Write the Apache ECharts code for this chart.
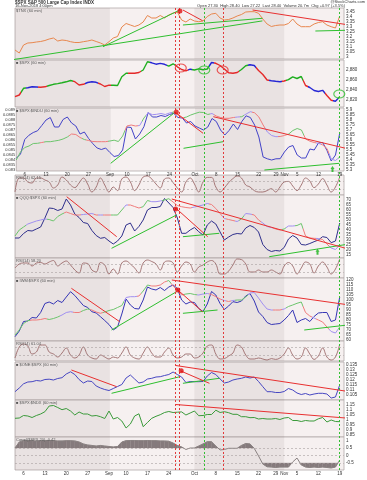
<!DOCTYPE html>
<html><head><meta charset="utf-8">
<script src="https://cdn.jsdelivr.net/npm/echarts@6.0.0/dist/echarts.min.js"></script>
<style>html,body{margin:0;padding:0;background:#fff;overflow:hidden}#c{width:367px;height:480px}</style>
</head><body><div id="c"></div>
<script>
// ================= DATA =================
const xTickIdx = [2,7,12,17,22,26,31,36,42,47,52,57,61,63,66,71,76];
const xTickLbl = ['6','13','20','27','Sep','10','17','24','Oct','8','15','22','29','Nov','5','12','19'];
const monthShade = [[0,22.2],[42,63]];
const vRed = [37.6,38.5,48.8];
const vGreen = [44.2,75.9];

// Panel 1 (orange)
const p1Vals = [3.07,3.04,3.12,3.14,3.143,3.15,3.155,3.165,3.18,3.19,
3.16,3.17,3.165,3.153,3.145,3.145,3.153,3.16,3.17,3.155,
3.14,3.12,3.153,3.19,3.205,3.30,3.335,3.32,3.305,3.32,
3.35,3.415,3.39,3.39,3.415,3.39,3.42,3.44,3.45,3.37,
3.35,3.38,3.36,3.353,3.36,3.405,3.43,3.437,3.39,3.37,
3.375,3.39,3.41,3.425,3.45,3.453,3.453,3.437,3.38,3.33,
3.305,3.315,3.32,3.32,3.335,3.38,3.33,3.303,3.303,3.303,
3.33,3.345,3.353,3.32,3.303,3.29,3.41];
// Panel 2 (price, trend-coloured)
const p2Vals = [2826.6,2830,2843.4,2844.6,2846.4,2846,2845.4,2846.4,2849,2851.4,
2852.8,2854.4,2856.4,2859,2856.6,2850,2851.4,2855,2856.6,2855.4,
2852,2847,2849.6,2849.6,2849,2866.6,2873.4,2873.4,2873.4,2875,
2880,2896.6,2894.4,2891.6,2893.2,2891.4,2887.6,2892.4,2886.4,2881,
2878.4,2881.6,2880,2882.4,2880.4,2882,2895,2893.4,2889,2882,
2874.4,2873.4,2875,2881,2888.4,2890.6,2889,2879,2871,2860,
2858.6,2857.4,2856.6,2858,2860.6,2866.4,2863,2867,2849,2845,
2839,2837,2839.4,2829,2819.6,2817.6,2826.6];
const p2State = [['r',2],['g',1],['b',3],['r',2],['g',6],['r',3],['b',3],['r',3],['g',4],['r',3],['g',2],['b',4],['g',2],['r',3],['b',1],['g',4],['b',1],['r',6],['g',2],['b',2],['r',3],['b',3],['r',1],['g',4],['r',1],['b',4],['r',2],['b',1],['g',1]];
// Panel 3
const p3Blue = [0.08417,0.0846,0.08605,0.08648,0.08675,0.08692,0.08745,0.088,0.08825,0.0873,
0.0873,0.08805,0.0883,0.0877,0.0874,0.0866,0.0868,0.08615,0.08563,0.0852,
0.08505,0.0852,0.08475,0.08435,0.08445,0.085,0.0873,0.08725,0.0861,0.0866,
0.08733,0.08875,0.0883,0.0883,0.08845,0.08835,0.08855,0.08867,0.08825,0.0882,
0.0877,0.08785,0.0874,0.0872,0.087,0.0873,0.08815,0.08785,0.087,0.0865,
0.08695,0.0876,0.08705,0.08785,0.08842,0.08825,0.0875,0.0863,0.0843,0.08412,
0.084,0.08412,0.08413,0.0848,0.0853,0.08545,0.0845,0.0842,0.0842,0.0851,
0.085,0.0857,0.08575,0.08495,0.0839,0.0845,0.0867];
const p3Over = [5.40,5.48,5.525,5.54,5.565,5.567,5.575,5.583,5.583,5.59,
5.597,5.61,5.63,5.66,5.655,5.625,5.605,5.595,5.585,5.583,
5.583,5.583,5.59,5.598,5.585,5.64,5.74,5.75,5.74,5.745,
5.82,5.872,5.853,5.857,5.865,5.855,5.87,5.88,5.85,5.82,
5.83,5.85,5.865,5.878,5.875,5.855,5.865,5.84,5.825,5.817,
5.817,5.825,5.83,5.833,5.86,5.883,5.872,5.83,5.75,5.68,
5.645,5.633,5.635,5.645,5.66,5.695,5.715,5.70,5.61,5.588,
5.575,5.567,5.55,5.515,5.41,5.395,5.43];
const p3State = [['g',6],['r',1],['g',6],['r',3],['g',1],['r',5],['g',4],['r',3],['p',1],['g',1],['p',6],['g',1],['r',2],['g',6],['p',1],['r',5],['p',1],['g',1],['p',2],['r',3],['p',3],['r',2],['g',4],['r',3],['p',1],['r',2],['p',2],['g',1]];
// Panel 4 (RSI)
const p4Rsi = [15,85,85,65,60,85,85,75,65,35,50,90,75,50,37,60,85,55,15,40,
85,50,15,40,22,80,90,65,22,50,90,95,80,55,35,80,85,62,35,15,
65,85,55,15,65,88,88,40,15,35,62,82,95,85,50,40,22,15,15,22,
32,15,40,65,68,45,22,50,85,70,37,55,82,50,15,40,90];
// Panel 5
const p5Blue = [32,32,36.5,39.5,39,41,43,52,62,61.5,59.5,61,71,65,56,52.5,47.5,46.5,39.5,34.5,
31.7,32.5,29,26,29,34,45,47,39,43.5,50,60,62.5,62.5,63.5,71.5,67,62.5,52,36.7,
36.7,40,42.5,38.3,35,45,49,46,38,30,33,35.5,36.5,36,42,44.5,42.5,38,25.5,20.5,
18.5,19.5,19,22.5,31,34.5,32,25.5,25,26.5,28.3,30,33.3,32.5,27.3,29,47];
const p5Over = [34,40,43,46,47.5,49,50,51,50.5,49,53.5,56,58,56.5,55,55,55.5,56,56.5,55,
55,55,55,55,55,60,65,65,63.5,62,63.3,69.5,68.3,68.3,69,70,71.3,68,64.5,63.3,
62.5,62,63,64,65,66.5,65.5,61.5,56.5,51.5,50.5,49.5,48.5,51,56.5,56,55,50,47,43.5,
42.5,41,40,41,44,44,44.5,46.5,34,32,31.7,31.5,30.5,26,22,20.5,25];
const p5State = [['g',3],['p',5],['g',4],['r',4],['p',3],['r',1],['p',1],['r',2],['g',3],['p',1],['r',3],['g',2],['p',3],['g',2],['r',5],['p',4],['r',3],['p',1],['r',2],['p',1],['g',1],['p',2],['r',2],['p',3],['r',2],['g',1],['p',2],['g',2],['r',3],['p',1],['r',2],['p',3]];
// Panel 6 (RSI)
const p6Rsi = [50,70,75,75,60,75,77.5,70,80,87.5,60,75,85,65,40,25,75,72.5,40,30,
77.5,65,20,45,20,75,85,70,50,25,75,90,82.5,70,40,80,85,75,30,60,
80,70,30,55,65,80,87.5,70,20,20,35,65,95,92,70,30,30,40,30,30,
40,30,20,60,77.5,60,20,50,80,70,25,60,80,55,20,45,95];
// Panel 7
const p7Blue = [63.3,69,78.5,79,82.5,82,87.5,96.5,98,96,99.5,97.5,103,108.3,104.5,99.5,94.5,92.5,88.3,87,
83.3,79.5,75.5,70,73,86,101,95,91.5,91,100,113,111,110,112.5,109.5,113,115,111.5,100,
96,98,97.5,91.5,88.5,96,108.5,105,96.5,90.5,94,98.3,97.5,99,104,106.5,99,88,83.5,77.5,
75.5,76,76.5,80,84.5,90,77.5,80,81.5,78.5,83.5,87,87.5,87.5,78.5,80,103];
const p7Over = [65,70,76.5,79.3,80,80,80.5,81.5,80.5,81.5,83,85,87.5,88.3,87.5,87.5,89.5,91,90,88,
86.7,88,89.5,90.5,92.5,94.5,102.5,103.3,103.3,104,109,115,114,114,115,118,119.5,114,110,105,
106,106.5,105.5,105,106,106.5,105.5,103.3,101,99.5,98.5,99.5,100,100,103,107,107.5,102,96,91,
90,90,90,91,93.5,95,96.7,98,87.5,84,82,80,78,73,68.5,67,73];
const p7State = [['g',4],['r',4],['g',3],['p',3],['r',2],['g',2],['r',3],['g',5],['p',3],['r',1],['g',2],['r',4],['g',1],['r',3],['g',3],['p',3],['r',3],['p',1],['r',1],['p',1],['g',3],['p',6],['r',2],['p',1],['g',4],['r',2],['p',1],['r',3],['p',2],['g',1]];
// Panel 8 (RSI)
const p8Rsi = [15,70,85,75,35,45,80,80,45,35,20,40,65,30,15,30,70,30,15,10,
30,20,10,20,15,40,70,30,15,10,40,70,40,20,20,45,65,30,15,20,
35,35,15,20,40,75,80,35,10,12,25,40,80,70,30,10,10,15,10,5,
12,8,15,35,65,30,10,20,65,35,8,25,65,20,5,20,85];
// Panel 9
const p9Vals = [0.1083,0.112,0.1162,0.118,0.1183,0.1195,0.119,0.1205,0.1208,0.12,
0.1215,0.1223,0.126,0.1282,0.1255,0.1205,0.117,0.119,0.1185,0.114,
0.112,0.1105,0.1095,0.1115,0.1135,0.1155,0.122,0.125,0.121,0.117,
0.118,0.121,0.1217,0.123,0.1233,0.1245,0.1255,0.128,0.1255,0.123,
0.1175,0.1185,0.1183,0.1183,0.1185,0.124,0.1275,0.1255,0.121,0.117,
0.118,0.12,0.121,0.1217,0.123,0.122,0.123,0.1185,0.1133,0.1083,
0.1083,0.1075,0.1075,0.1085,0.1115,0.11,0.107,0.1055,0.1065,0.105,
0.106,0.1067,0.1067,0.106,0.102,0.103,0.115];
// Panel 10
const p10Vals = [1.017,1.02,1.045,1.04,1.025,1.045,1.06,1.083,1.14,1.145,
1.125,1.103,1.115,1.09,1.05,1.08,1.06,1.06,1.04,1.045,
1.033,1.015,1.09,1.01,1.025,0.99,0.92,0.96,1.04,1.062,
0.933,0.975,1.017,1.037,1.053,1.075,1.085,1.075,1.078,1.081,
1.05,1.07,1.09,1.043,1.045,1.055,1.055,1.098,1.075,1.083,
1.073,1.057,1.057,1.033,1.033,1.023,1.025,1.01,1.015,1.01,
1.01,1.015,1.005,1.02,1.025,0.995,0.995,0.985,0.995,0.99,
0.99,1.012,1.025,0.98,1.0,0.985,0.983];
// Panel 11 (correlation)
const p11Vals = [0.5,0.9,1.0,0.99,0.99,0.97,0.99,1.0,1.0,0.99,0.97,0.97,0.99,0.99,0.97,
0.9,0.77,0.7,0.67,0.63,0.67,0.63,0.6,0.57,0.6,
0.9,0.99,1.0,1.0,0.99,0.99,1.0,0.99,0.99,0.97,0.97,0.95,
0.83,0.67,0.57,0.4,0.5,0.5,0.63,0.77,0.92,0.92,0.63,0.37,0.4,0.48,0.48,0.48,0.67,0.8,0.77,0.47,
-0.03,-0.57,-0.75,-0.77,-0.8,-0.77,-0.77,-0.77,-0.43,-0.17,-0.63,-0.77,-0.8,-0.77,-0.8,-0.77,-0.8,-0.83,-0.77,-0.3];
const p11Bands = [0.5,-0.5];

// Annotations (data coordinates: [trading-day index, value])
const p1Green = [[[-3.5,2.953],[57.9,3.361]],[[20.6,3.103],[38.6,3.47]],[[39.3,3.32],[57.9,3.387]],[[70.3,3.26],[77.3,3.267]]];
const p1Red = [[[39.3,3.47],[43.9,3.363]],[[55.6,3.47],[78.2,3.32]]];
const p1Mark = [[38.6,3.46]];
const p2CircRed = [[38.8,2884],[48.6,2880]];
const p2CircGreen = [[44.3,2880],[75.9,2832]];
const p3Green = [[[22.2,5.367],[37,5.867]],[[39.3,5.517],[48.6,5.583]],[[58.3,5.30],[75.9,5.367]]];
const p3Red = [[[37.6,5.87],[43.9,5.667]],[[46.3,5.833],[77.4,5.517]]];
const p3Mark = [[37.6,5.88]];
const p3Arrow = [[74.3,5.31]];
const p5Green = [[[22.6,21.7],[37.8,55]],[[39.3,33.3],[47.8,36.7]],[[59.5,13.3],[78.2,26]]];
const p5Red = [[[12.1,73.3],[23.8,33.3]],[[37.6,62],[45.1,33.3]],[[36.7,71],[78.3,20.6]]];
const p5Mark = [[37.6,61]];
const p5Arrow = [[70.8,18.3]];
const p7Green = [[[22.6,70],[37.8,108.3]],[[39.3,86.7],[47.4,90]],[[67.7,70],[77.8,75]]];
const p7Red = [[[13.2,111.7],[24.5,78.3]],[[36.7,120],[78.3,95]],[[38.1,110],[43.9,88.3]]];
const p7Mark = [[38.1,110]];
const p9Green = [[[22.6,0.1067],[38.6,0.1233]],[[39.3,0.1167],[47.8,0.1217]]];
const p9Red = [[[13.2,0.130],[23.8,0.1133]],[[37.6,0.1345],[78.3,0.1083]],[[38.8,0.129],[45.5,0.1167]]];
const p9Mark = [[38.9,0.1293]];
const p10Red = [[[37.6,1.155],[78.3,1.017]]];

const panelLabels = ['$TNX (60 min)','■ $SPX (60 min)','■ $SPX:$INDU (60 min)','RSI(14) 62.15','■ QQQ:$SPX (60 min)','RSI(14) 58.20','■ IWM:$SPX (60 min)','RSI(14) 61.04','■ $ONE:$SPX (60 min)','■ $SPX:$NDX (60 min)','Correl($SPX,20) -0.42'];

// ================= LAYOUT / STYLE =================
const L = 15, R = 23;
const layout = [[8,51],[60,47],[108,63],[175,20],[195,63],[258,20],[278,63],[341,20],[362,38],[400,37],[437,33]];
const yRange = [[2.98,3.49],[2806,2900],[5.29,5.92],[0,100],[12,75],[0,100],[59,122],[0,100],[0.100,0.138],[0.83,1.20],[-0.967,1.233]];
const ySplit = [10,5,12,2,12,2,12,2,8,7,4];
const isOsc = [false,false,false,true,false,true,false,true,false,false,false];
const RED='#e83030', GREEN='#2fbf2f';
const cP2 = {r:'#e42a2a', g:'#1fae1f', b:'#2626d4'};
const cOv = {r:'#ef7b7b', g:'#6cc46c', p:'#a08ff0'};
const OSC='#9c6a6a';
const FONT='Liberation Sans';

const grid = layout.map(([t,h]) => ({left:L, right:R, top:t, height:h, show:true, borderColor:'#b3aaaa', borderWidth:0.8, backgroundColor:'#f6f0f0'}));
grid.push({left:L, right:R, top:8, height:462, show:false});

const xAxis = layout.map((_, i) => ({type:'value', gridIndex:i, min:0, max:77, interval:1,
  axisLine:{show:false}, axisTick:{show:false}, splitLine:{show:false},
  axisLabel:{show: i===2 || i===10, fontSize:4.5, color:'#333', margin:1.5, fontFamily:FONT,
    formatter: v => { const r = Math.round(v); const k = xTickIdx.indexOf(r); return (k>=0 && Math.abs(v-r)<1e-6) ? xTickLbl[k] : ''; } }}));
xAxis.push({type:'value', gridIndex:11, min:0, max:77, show:false});

const yAxis = layout.map((_, i) => ({type:'value', gridIndex:i, position:'right', min:yRange[i][0], max:yRange[i][1],
  splitNumber:ySplit[i], scale:true,
  axisLine:{show:false}, axisTick:{show:false}, splitLine:{show:false},
  axisLabel:{fontSize:4.5, color:'#333', margin:2, showMinLabel:false, showMaxLabel:false, fontFamily:FONT,
    formatter: isOsc[i] ? (v => (v===30||v===70) ? String(v) : '') : null}}));
yAxis.push({type:'value', gridIndex:2, position:'left', min:0.0829, max:0.0892, splitNumber:12,
  axisLine:{show:false}, axisTick:{show:false}, splitLine:{show:false},
  axisLabel:{fontSize:4, color:'#333', margin:1, showMinLabel:false, showMaxLabel:false, fontFamily:FONT}});
yAxis.push({type:'value', gridIndex:11, min:0, max:1, show:false});

// ================= SERIES =================
const series = [], visualMap = [];
function add(s){ s.animation=false; s.silent=true; series.push(s); return series.length-1; }
function ln(gi, yi, arr, color, w, extra){
  return add(Object.assign({type:'line', xAxisIndex:gi, yAxisIndex:yi, data:arr.map((v,i)=>[i,v]), symbol:'none',
    lineStyle:{color, width:w||1}, itemStyle:{color}, z:3}, extra||{}));
}
function pieces(runs, cmap){ let s=0; return runs.map(([k,n]) => { const p={gte:s-0.5, lt:s+n-0.5, color:cmap[k]}; s+=n; return p; }); }
function colored(gi, yi, arr, runs, cmap, w){
  const idx = add({type:'line', xAxisIndex:gi, yAxisIndex:yi, data:arr.map((v,i)=>[i,v]), symbol:'none', lineStyle:{width:w||1}, z:3});
  visualMap.push({show:false, type:'piecewise', seriesIndex:idx, dimension:0, pieces:pieces(runs,cmap)});
}
function segs(gi, yi, list, color){ list.forEach(p => add({type:'line', xAxisIndex:gi, yAxisIndex:yi, data:p, symbol:'none', clip:false, lineStyle:{color, width:1}, z:4})); }
function dots(gi, yi, pts, color, size){ add({type:'scatter', xAxisIndex:gi, yAxisIndex:yi, data:pts, symbol:'circle', symbolSize:size||5, itemStyle:{color}, z:6, clip:false}); }
function rings(gi, yi, pts, color){ add({type:'scatter', xAxisIndex:gi, yAxisIndex:yi, data:pts, symbol:'circle', symbolSize:[11,8], itemStyle:{color:'rgba(0,0,0,0)', borderColor:color, borderWidth:1}, z:6}); }
function arrows(gi, yi, pts){ add({type:'scatter', xAxisIndex:gi, yAxisIndex:yi, data:pts, symbol:'path://M2,0 L4,3 L3,3 L3,6 L1,6 L1,3 L0,3 Z', symbolSize:[4,6], itemStyle:{color:'#19b419'}, z:6}); }

// month shading
layout.forEach((_, i) => {
  add({type:'line', xAxisIndex:i, yAxisIndex:i, data:[[0,yRange[i][0]]], symbol:'none', lineStyle:{opacity:0}, z:1,
    markArea:{silent:true, itemStyle:{color:'rgba(105,80,85,0.085)'}, data: monthShade.map(([a,b]) => [{xAxis:a},{xAxis:b}])}});
});

ln(0, 0, p1Vals, '#e8874e', 1);
segs(0, 0, p1Green, GREEN); segs(0, 0, p1Red, RED); dots(0, 0, p1Mark, '#e01010');

colored(1, 1, p2Vals, p2State, cP2, 1.4);
rings(1, 1, p2CircRed, RED); rings(1, 1, p2CircGreen, GREEN);

ln(2, 11, p3Blue, '#4343c8', 1);
colored(2, 2, p3Over, p3State, cOv, 1);
segs(2, 2, p3Green, GREEN); segs(2, 2, p3Red, RED); dots(2, 2, p3Mark, '#e01010'); arrows(2, 2, p3Arrow);

const oscLine = {markLine:{silent:true, symbol:'none', label:{show:false}, lineStyle:{color:'#a9a0a0', type:[2,2], width:0.6}, data:[{yAxis:30},{yAxis:70}]}};
ln(3, 3, p4Rsi, OSC, 0.9, Object.assign({smooth:0.4}, oscLine));

ln(4, 4, p5Blue, '#2f2f8c', 1);
colored(4, 4, p5Over, p5State, cOv, 1);
segs(4, 4, p5Green, GREEN); segs(4, 4, p5Red, RED); dots(4, 4, p5Mark, '#e01010'); arrows(4, 4, p5Arrow);

ln(5, 5, p6Rsi, OSC, 0.9, Object.assign({smooth:0.4}, oscLine));

ln(6, 6, p7Blue, '#3535b5', 1);
colored(6, 6, p7Over, p7State, cOv, 1);
segs(6, 6, p7Green, GREEN); segs(6, 6, p7Red, RED); dots(6, 6, p7Mark, '#e01010');

ln(7, 7, p8Rsi, OSC, 0.9, Object.assign({smooth:0.4}, oscLine));

ln(8, 8, p9Vals, '#4747c2', 1);
segs(8, 8, p9Green, GREEN); segs(8, 8, p9Red, RED); dots(8, 8, p9Mark, '#e01010');

ln(9, 9, p10Vals, '#3a9a3a', 1);
segs(9, 9, p10Red, RED);

// correlation: shaded beyond +/-0.5 (custom series through the axis scales)
const bandItems = [];
p11Bands.forEach((th, k) => {
  const dir = th > 0 ? 1 : -1;
  for (let i = 0; i < p11Vals.length - 1; i++) bandItems.push([i, p11Vals[i], p11Vals[i+1], th, dir]);
});
add({type:'custom', xAxisIndex:10, yAxisIndex:10, data:bandItems, encode:{x:0, y:1}, z:2,
  renderItem: (params, api) => {
    const i = api.value(0), a = api.value(1), b = api.value(2), th = api.value(3), dir = api.value(4);
    const fa = dir*(a-th), fb = dir*(b-th);
    if (fa <= 0 && fb <= 0) return null;
    let pts;
    if (fa >= 0 && fb >= 0) pts = [[i,th],[i,a],[i+1,b],[i+1,th]];
    else { const xc = i + fa/(fa-fb); pts = fa > 0 ? [[i,th],[i,a],[xc,th]] : [[xc,th],[i+1,b],[i+1,th]]; }
    return {type:'polygon', shape:{points: pts.map(p => api.coord(p))}, style:{fill:'#857a7c', stroke:'#857a7c', lineWidth:0.3}};
  }});
ln(10, 10, p11Vals, '#8a8282', 1, {markLine:{silent:true, symbol:'none', label:{show:false}, lineStyle:{color:'#a9a0a0', type:[2,2], width:0.6}, data:[{yAxis:0.5},{yAxis:0},{yAxis:-0.5}]}});

// full-height vertical dashed event lines
add({type:'line', xAxisIndex:11, yAxisIndex:12, data:[[0,0]], symbol:'none', lineStyle:{opacity:0}, z:7,
  markLine:{silent:true, symbol:'none', label:{show:false},
    data: vRed.map(x => ({xAxis:x, lineStyle:{color:'#e23a3a', type:[2,2], width:1}}))
      .concat(vGreen.map(x => ({xAxis:x, lineStyle:{color:'#33c033', type:[2,2], width:1}})))}});

// ================= TEXT =================
const ts = (extra) => Object.assign({fontSize:4.5, color:'#333', fontFamily:FONT, fontWeight:'normal'}, extra||{});
const title = [
  {text:'$SPX S&P 500 Large Cap Index INDX', left:15, top:0, padding:0, textStyle:ts({fontWeight:'bold'})},
  {text:'16-Nov-2018 4:00pm', left:15, top:4, padding:0, textStyle:ts({fontSize:4})},
  {text:'@StockCharts.com', right:2, top:0, padding:0, textStyle:ts({fontSize:4})},
  {text:'Open 27.30  High 28.40  Low 27.22  Last 28.40  Volume 20.7m  Chg +0.97 (+3.5%)', right:22, top:4, padding:0, textStyle:ts({fontSize:4})}
];
layout.forEach(([t], i) => title.push({text:panelLabels[i], left:16, top:t+1, padding:0, textStyle:ts({fontSize:4, color:'#555'})}));

const chart = echarts.init(document.getElementById('c'), null, {renderer:'canvas'});
chart.setOption({animation:false, backgroundColor:'#ffffff', title, grid, xAxis, yAxis, series, visualMap});
</script></body></html>
